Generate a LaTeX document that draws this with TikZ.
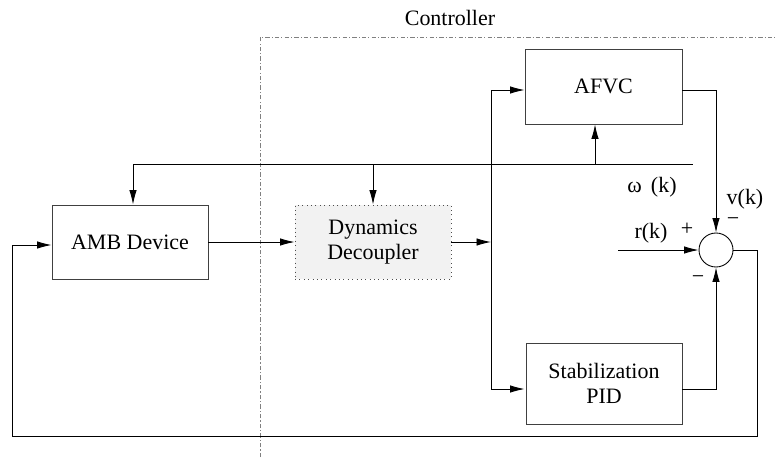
\documentclass[tikz,border=0pt]{standalone}
\usepackage{fontspec}
\setmainfont{Liberation Serif}
\usetikzlibrary{arrows.meta}

\begin{document}
\begin{tikzpicture}[font=\fontsize{12.5}{14}\selectfont, line width=0.5pt,
	box/.style={draw=black!75, minimum width=3.12cm, minimum height=1.48cm, align=center},
	arr/.style={-{Latex[length=2.9mm,width=1.5mm]}}]
					\useasboundingbox (0,0) rectangle (15.54,9.14);
					\draw[gray, dash pattern=on 2.5pt off 1.2pt on 0.6pt off 1.2pt] (5.2,0) -- (5.2,8.4) -- (15.54,8.4);
					\path (9.0,8.78) node (ctrl) {Controller};
					
					\node[box] (amb) at (2.6,4.30) {AMB Device};
					\node[box, draw=black!70, dotted, fill=gray!10] (dd) at (7.46,4.30) {Dynamics\\Decoupler};
					\node[box, minimum width=3.14cm, minimum height=1.5cm] (afvc) at (12.07,7.41) {AFVC};
					\node[box, minimum height=1.62cm] (pid) at (12.08,1.47) {Stabilization\\PID};
					\node[draw, circle, minimum size=0.68cm, inner sep=0pt] (sum) at (14.32,4.14) {};
					
					\coordinate (busL) at (2.66,5.86);
					\coordinate (busR) at (13.86,5.86);
					\coordinate (split) at (9.82,4.30);
					\coordinate (rin) at (12.36,4.14);
					
					\draw (busL) -- (busR);
					\draw[arr] (busL) -- (busL |- amb.north);
					\draw[arr] (dd.north |- busL) -- (dd.north);
					\draw[arr] (11.9,5.86) -- (11.9,0 |- afvc.south);
					
					\draw[arr] (amb.east) -- (dd.west);
					\draw[arr] (dd.east) -- (split);
					\draw[arr] (split |- 0,7.34) -- (split) -- (split |- 0,1.36) -- (afvc.west |- 0,1.36);
					\draw[arr] (split |- 0,7.34) -- (afvc.west |- 0,7.34);
					
					\draw[arr] (afvc.east |- 0,7.34) -- (sum.north |- 0,7.34) -- (sum.north);
					\draw[arr] (pid.east |- 0,1.36) -- (sum.south |- 0,1.36) -- (sum.south);
					\draw[arr] (rin) -- (sum.west);
					\draw[arr] (sum.east) -- (15.14,4.14) -- (15.14,0.42) -- (0.24,0.42) -- (0.24,4.24) -- (amb.west |- 0,4.24);
					
					\path (13.02,4.48) node (rk) {r(k)};
					\path (13.74,4.56) node (plus) {+};
					\path (14.9,5.16) node (vk) {v(k)};
					\path (14.66,4.70) node (mtop) {−};
					\path (13.04,5.40) node (wk) {ω\, (k)};
					\path (13.96,3.54) node (mbot) {−};
\end{tikzpicture}
\end{document}
